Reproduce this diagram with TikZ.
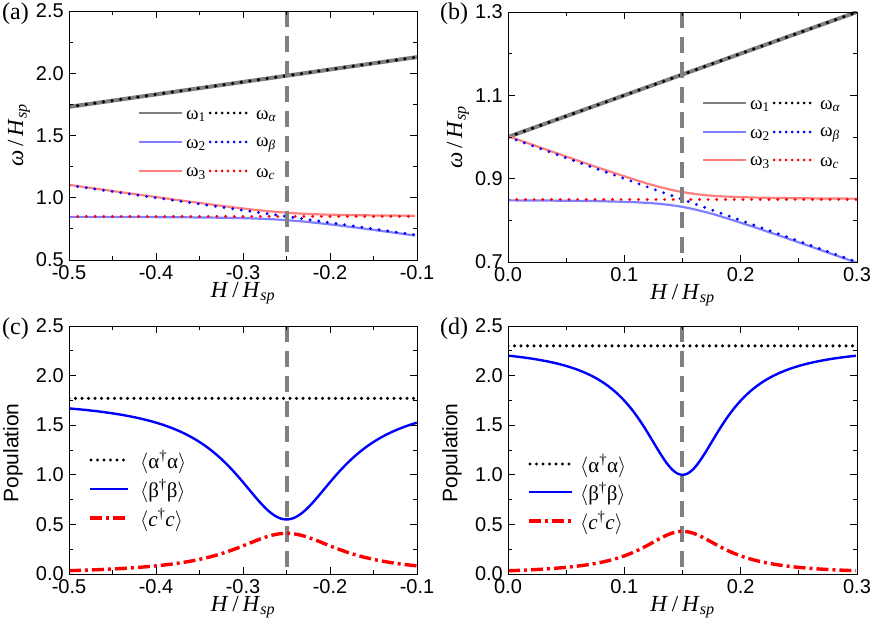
\documentclass[tikz,border=0pt]{standalone}
\usepackage{fontspec}
\setmainfont{Liberation Serif}
\setsansfont{Liberation Sans}
\definecolor{lblue}{HTML}{7F7FFF}
\definecolor{lred}{HTML}{FF7F7F}
\definecolor{dgray}{HTML}{808080}
\newcommand{\hhsp}{\textit{H}\,/\,\textit{H}\textsubscript{\textit{sp}}}
\newcommand{\whsp}{\textit{ω}\,/\,\textit{H}\textsubscript{\textit{sp}}}
\tikzset{
  frame/.style={black, line width=0.8pt},
  tk/.style={black, line width=0.8pt},
  tlx/.style={font=\sffamily\fontsize{20}{20}\selectfont, anchor=north, inner sep=0pt},
  tly/.style={font=\sffamily\fontsize{20}{20}\selectfont, anchor=east, inner sep=0pt},
  xl/.style={font=\fontsize{23}{23}\selectfont, inner sep=0pt},
  yl/.style={font=\fontsize{23}{23}\selectfont, inner sep=0pt, rotate=90},
  popl/.style={font=\sffamily\fontsize{21}{21}\selectfont, inner sep=0pt, rotate=90},
  wone/.style={dgray, line width=4pt},
  wtwo/.style={lblue, line width=2.2pt},
  wthree/.style={lred, line width=2.2pt},
  dotk/.style={black, line width=3.6pt, line cap=round, dash pattern=on 0pt off 8.7pt},
  dotb/.style={blue, line width=3.2pt, line cap=round, dash pattern=on 0pt off 8.7pt},
  dotr/.style={red, line width=3.2pt, line cap=round, dash pattern=on 0pt off 8.7pt},
  pdotk/.style={black, line width=3.4pt, line cap=round, dash pattern=on 0pt off 6.5pt},
  pblue/.style={blue, line width=2.4pt},
  pred/.style={red, line width=3.4pt, dash pattern=on 12pt off 4pt on 3pt off 4pt},
  vdash/.style={dgray, line width=4pt, dash pattern=on 16pt off 9pt},
  lg/.style={font=\fontsize{19}{19}\selectfont, anchor=west, inner sep=0pt},
  lgp/.style={font=\fontsize{21}{21}\selectfont, anchor=west, inner sep=0pt},
  plab/.style={font=\fontsize{24}{24}\selectfont, anchor=north west, inner sep=0pt}
}
% #1 width(data) #2 height(data) #3 xmajor step #4 ymajor step
\newcommand{\myframe}[4]{%
  \draw[frame] (0,0) rectangle (#1,#2);
  \pgfmathsetmacro{\xs}{#3/2}\pgfmathsetmacro{\ys}{#4/2}
  \foreach \u in {0,\xs,...,#1}{%
    \draw[tk] (\u,0) -- ++(0,4pt); \draw[tk] (\u,#2) -- ++(0,-4pt);}
  \foreach \u in {0,#3,...,#1}{%
    \draw[tk] (\u,0) -- ++(0,7pt); \draw[tk] (\u,#2) -- ++(0,-7pt);}
  \foreach \v in {0,\ys,...,#2}{%
    \draw[tk] (0,\v) -- ++(4pt,0); \draw[tk] (#1,\v) -- ++(-4pt,0);}
  \foreach \v in {0,#4,...,#2}{%
    \draw[tk] (0,\v) -- ++(7pt,0); \draw[tk] (#1,\v) -- ++(-7pt,0);}
}
\begin{document}
\begin{tikzpicture}[x=1pt,y=-1pt]
\useasboundingbox (0,0) rectangle (872,631);
% ---------- (a)
\begin{scope}[shift={(69,260)}, x=870pt, y=124.5pt]
  \begin{scope}
    \clip (0,0) rectangle (0.4,2);
    \draw[wone] plot[domain=0:0.4, samples=2] (\x,{1.23+\x});
    \draw[dotk] plot[domain=0:0.4, samples=2] (\x,{1.23+\x});
    \draw[wtwo] plot[domain=0:0.4, samples=150] (\x,{(1.95-\x)/2-sqrt(((0.25-\x)/2)^2+0.0009)-0.5});
    \draw[wthree] plot[domain=0:0.4, samples=150] (\x,{(1.95-\x)/2+sqrt(((0.25-\x)/2)^2+0.0009)-0.5});
    \draw[dotb] plot[domain=0:0.4, samples=2] (\x,{0.6-\x});
    \draw[dotr] (0,0.35) -- (0.4,0.35);
    \draw[vdash] (0.25,2) -- (0.25,0);
  \end{scope}
  \myframe{0.4}{2}{0.1}{0.5}
  \foreach \u/\t in {0/-0.5,0.1/-0.4,0.2/-0.3,0.3/-0.2,0.4/-0.1}
    \node[tlx] at ([yshift=-5pt]\u,0) {\t};
  \foreach \v/\t in {0/0.5,0.5/1.0,1/1.5,1.5/2.0,2/2.5}
    \node[tly] at ([xshift=-5pt]0,\v) {\t};
  \node[xl] (xa) at ([yshift=-33pt]0.2,0) {\hhsp};
  \node[yl] (ya) at ([xshift=-50pt]0,1) {\whsp};
\end{scope}
% ---------- (b)
\begin{scope}[shift={(508,262)}, x=1163.3pt, y=416.7pt]
  \begin{scope}
    \clip (0,0) rectangle (0.3,0.6);
    \draw[wone] plot[domain=0:0.3, samples=2] (\x,{0.3+\x});
    \draw[dotk] plot[domain=0:0.3, samples=2] (\x,{0.3+\x});
    \draw[wtwo] plot[domain=0:0.3, samples=150] (\x,{(1.85-\x)/2-sqrt(((0.15-\x)/2)^2+0.000324)-0.7});
    \draw[wthree] plot[domain=0:0.3, samples=150] (\x,{(1.85-\x)/2+sqrt(((0.15-\x)/2)^2+0.000324)-0.7});
    \draw[dotb] plot[domain=0:0.3, samples=2] (\x,{0.3-\x});
    \draw[dotr] (0,0.15) -- (0.3,0.15);
    \draw[vdash] (0.15,0.6) -- (0.15,0);
  \end{scope}
  \myframe{0.3}{0.6}{0.1}{0.2}
  \foreach \u/\t in {0/0.0,0.1/0.1,0.2/0.2,0.3/0.3}
    \node[tlx] at ([yshift=-5pt]\u,0) {\t};
  \foreach \v/\t in {0/0.7,0.2/0.9,0.4/1.1,0.6/1.3}
    \node[tly] at ([xshift=-5pt]0,\v) {\t};
  \node[xl] (xb) at ([yshift=-33pt]0.15,0) {\hhsp};
  \node[yl] (yb) at ([xshift=-50pt]0,0.3) {\whsp};
\end{scope}
% ---------- (c)
\begin{scope}[shift={(69,574)}, x=870pt, y=99.2pt]
  \begin{scope}
    \clip (0,0) rectangle (0.4,2.5);
    \draw[vdash] (0.25,2.5) -- (0.25,0);
    \draw[pdotk] (0,1.77) -- (0.4,1.77);
    \draw[pblue] plot[domain=0:0.4, samples=200] (\x,{1.77-1.22/(1+((\x-0.25)/0.075)^2)});
    \draw[pred] plot[domain=0:0.4, samples=200] (\x,{0.41/(1+((\x-0.25)/0.075)^2)});
  \end{scope}
  \myframe{0.4}{2.5}{0.1}{0.5}
  \foreach \u/\t in {0/-0.5,0.1/-0.4,0.2/-0.3,0.3/-0.2,0.4/-0.1}
    \node[tlx] at ([yshift=-5pt]\u,0) {\t};
  \foreach \v/\t in {0/0.0,0.5/0.5,1/1.0,1.5/1.5,2/2.0,2.5/2.5}
    \node[tly] at ([xshift=-5pt]0,\v) {\t};
  \node[xl] (xc) at ([yshift=-33pt]0.2,0) {\hhsp};
  \node[popl] (yc) at ([xshift=-56pt]0,1.22) {Population};
\end{scope}
% ---------- (d)
\begin{scope}[shift={(508,574)}, x=1163.3pt, y=99.2pt]
  \begin{scope}
    \clip (0,0) rectangle (0.3,2.5);
    \draw[vdash] (0.15,2.5) -- (0.15,0);
    \draw[pdotk] (0,2.3) -- (0.3,2.3);
    \draw[pblue] plot[domain=0:0.3, samples=200] (\x,{2.3-1.3/(1+((\x-0.15)/0.043)^2)});
    \draw[pred] plot[domain=0:0.3, samples=200] (\x,{0.43/(1+((\x-0.15)/0.043)^2)});
  \end{scope}
  \myframe{0.3}{2.5}{0.1}{0.5}
  \foreach \u/\t in {0/0.0,0.1/0.1,0.2/0.2,0.3/0.3}
    \node[tlx] at ([yshift=-5pt]\u,0) {\t};
  \foreach \v/\t in {0/0.0,0.5/0.5,1/1.0,1.5/1.5,2/2.0,2.5/2.5}
    \node[tly] at ([xshift=-5pt]0,\v) {\t};
  \node[xl] (xd) at ([yshift=-33pt]0.15,0) {\hhsp};
  \node[popl] (yd) at ([xshift=-56pt]0,1.22) {Population};
\end{scope}
% panel labels
\node[plab] (la) at (2,3) {(a)};
\node[plab] (lb) at (440,3) {(b)};
\node[plab] (lc) at (2,318) {(c)};
\node[plab] (ld) at (440,318) {(d)};
% legend (a)
\draw[wone,line width=2.5pt] (139,113) -- (182,113);
\node[lg] (a1t) at (186,116) {ω\textsubscript{1}};
\draw[dotk,line width=3pt,dash pattern=on 0pt off 6pt] (210,113) -- (250,113);
\node[lg] (a1u) at (256,116) {ω\textsubscript{\textit{α}}};
\draw[wtwo] (139,142) -- (182,142);
\node[lg] (a2t) at (186,145) {ω\textsubscript{2}};
\draw[dotb,line width=3pt,dash pattern=on 0pt off 6pt] (210,142) -- (250,142);
\node[lg] (a2u) at (256,145) {ω\textsubscript{\textit{β}}};
\draw[wthree] (139,171) -- (182,171);
\node[lg] (a3t) at (186,174) {ω\textsubscript{3}};
\draw[dotr,line width=3pt,dash pattern=on 0pt off 6pt] (210,171) -- (250,171);
\node[lg] (a3u) at (256,174) {ω\textsubscript{\textit{c}}};
% legend (b)
\draw[wone,line width=2.5pt] (703,103) -- (746,103);
\node[lg] (b1t) at (750,106) {ω\textsubscript{1}};
\draw[dotk,line width=3pt,dash pattern=on 0pt off 6pt] (774,103) -- (814,103);
\node[lg] (b1u) at (820,106) {ω\textsubscript{\textit{α}}};
\draw[wtwo] (703,132) -- (746,132);
\node[lg] (b2t) at (750,135) {ω\textsubscript{2}};
\draw[dotb,line width=3pt,dash pattern=on 0pt off 6pt] (774,132) -- (814,132);
\node[lg] (b2u) at (820,135) {ω\textsubscript{\textit{β}}};
\draw[wthree] (703,160) -- (746,160);
\node[lg] (b3t) at (750,163) {ω\textsubscript{3}};
\draw[dotr,line width=3pt,dash pattern=on 0pt off 6pt] (774,160) -- (814,160);
\node[lg] (b3u) at (820,163) {ω\textsubscript{\textit{c}}};
% legend (c)
\draw[pdotk] (91,460) -- (128,460);
\node[lgp] (c1) at (140,462) {$\langle$α\textsuperscript{†}α$\rangle$};
\draw[pblue] (90,489) -- (128,489);
\node[lgp] (c2) at (140,491) {$\langle$β\textsuperscript{†}β$\rangle$};
\draw[pred] (90,518) -- (128,518);
\node[lgp] (c3) at (140,520) {$\langle$\textit{c}\textsuperscript{†}\textit{c}$\rangle$};
% legend (d)
\draw[pdotk] (530,464) -- (570,464);
\node[lgp] (d1) at (580,466) {$\langle$α\textsuperscript{†}α$\rangle$};
\draw[pblue] (529,492) -- (572,492);
\node[lgp] (d2) at (580,494) {$\langle$β\textsuperscript{†}β$\rangle$};
\draw[pred] (529,521) -- (572,521);
\node[lgp] (d3) at (580,523) {$\langle$\textit{c}\textsuperscript{†}\textit{c}$\rangle$};
\end{tikzpicture}
\end{document}
